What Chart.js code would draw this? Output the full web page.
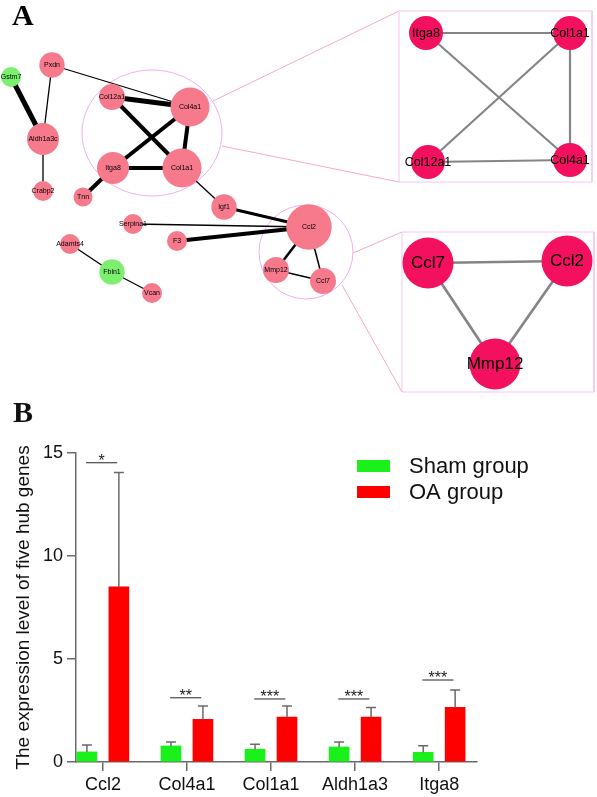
<!DOCTYPE html>
<html>
<head>
<meta charset="utf-8">
<script src="https://cdn.jsdelivr.net/npm/chart.js@4.4.1/dist/chart.umd.min.js"></script>
<style>
    html, body { margin: 0; padding: 0; background: #fff; }
    #pagina { position: relative; width: 597px; height: 797px; }
    #caixaRede { position: absolute; left: 0; top: 0; width: 597px; height: 400px; }
    #caixaBarras { position: absolute; left: 0; top: 370px; width: 597px; height: 427px; }
</style>
</head>
<body>
<div id="pagina">
    <div id="caixaRede"><canvas id="graficoRede"></canvas></div>
    <div id="caixaBarras"><canvas id="graficoBarras"></canvas></div>
</div>
<script>
// ---- Painel A: rede PPI ----
const nos = ['Gstm7', 'Pxdn', 'Aldh1a3c', 'Crabp2', 'Col12a1', 'Col4a1', 'Itga8', 'Col1a1', 'Tnn',
    'Igf1', 'Ccl2', 'Serpina1', 'F3', 'Adamts4', 'Fbln1', 'Vcan', 'Mmp12', 'Ccl7'];
const nosX = [11, 52, 43, 43, 112, 190, 113, 182, 83, 224, 309, 133, 177, 70, 112, 152, 276, 323];
const nosY = [77, 65, 139, 191, 97, 107, 168, 168, 197, 207, 227, 224, 241, 244, 272, 293, 270, 281];
const nosGrau = [10, 12.7, 16, 10, 13, 19.5, 16, 19.5, 9.5, 12.7, 22.7, 10, 10, 10, 12.7, 10, 13, 13];
const nosRegulacao = ['down', 'up', 'up', 'up', 'up', 'up', 'up', 'up', 'up',
    'up', 'up', 'up', 'up', 'up', 'down', 'up', 'up', 'up'];
const arestas = [
    ['Gstm7', 'Aldh1a3c', 5], ['Pxdn', 'Aldh1a3c', 1.3], ['Aldh1a3c', 'Crabp2', 1.3],
    ['Pxdn', 'Col4a1', 1.3], ['Col12a1', 'Col4a1', 5], ['Col12a1', 'Col1a1', 4],
    ['Itga8', 'Col4a1', 4], ['Itga8', 'Col1a1', 4], ['Col4a1', 'Col1a1', 4],
    ['Itga8', 'Tnn', 4], ['Col1a1', 'Igf1', 1.3], ['Igf1', 'Ccl2', 3],
    ['Serpina1', 'Ccl2', 1.3], ['F3', 'Ccl2', 4], ['Ccl2', 'Mmp12', 2.5],
    ['Ccl2', 'Ccl7', 1.5], ['Mmp12', 'Ccl7', 1.5], ['Adamts4', 'Fbln1', 1.3], ['Fbln1', 'Vcan', 1.3]
];

// modulos ampliados
const modulo1 = ['Itga8', 'Col1a1', 'Col12a1', 'Col4a1'];
const modulo1X = [426, 570, 428, 570];
const modulo1Y = [33, 33, 162, 160];
const modulo1Arestas = [['Itga8', 'Col1a1'], ['Itga8', 'Col4a1'], ['Col1a1', 'Col12a1'], ['Col1a1', 'Col4a1'], ['Col12a1', 'Col4a1']];
const modulo2 = ['Ccl7', 'Ccl2', 'Mmp12'];
const modulo2X = [428, 567, 495];
const modulo2Y = [263, 261, 364];
const modulo2Arestas = [['Ccl7', 'Ccl2'], ['Ccl7', 'Mmp12'], ['Ccl2', 'Mmp12']];

// ---- Painel B: expressao dos genes hub ----
const genes = ['Ccl2', 'Col4a1', 'Col1a1', 'Aldh1a3', 'Itga8'];
const shamMedia = [0.49, 0.78, 0.62, 0.73, 0.47];
const shamDP = [0.34, 0.19, 0.24, 0.24, 0.32];
const oaMedia = [8.5, 2.07, 2.18, 2.18, 2.65];
const oaDP = [5.55, 0.65, 0.54, 0.47, 0.85];
const significancia = ['*', '**', '***', '***', '***'];
const alturaSig = [14.53, 3.12, 3.06, 3.06, 3.98];
const ticksY = [0, 5, 10, 15];

const corCinza = '#6a6a6a';

// ---------- grafico A ----------
function pos(nomes, xs, ys, nome) {
    const i = nomes.indexOf(nome);
    return { x: xs[i], y: ys[i] };
}

const datasetsRede = [];

// nos principais
datasetsRede.push({
    type: 'bubble', order: 0, clip: false,
    data: nos.map((n, i) => ({ x: nosX[i], y: nosY[i], r: nosGrau[i] })),
    backgroundColor: nosRegulacao.map(r => r === 'down' ? '#7cf06e' : '#f77a8c'),
    borderWidth: 0, rotulos: nos, fonte: 7
});
datasetsRede.push({
    type: 'bubble', order: 0, clip: false,
    data: modulo1.map((n, i) => ({ x: modulo1X[i], y: modulo1Y[i], r: 17 })),
    backgroundColor: '#f2105f', borderWidth: 0, rotulos: modulo1, fonte: 12.5
});
datasetsRede.push({
    type: 'bubble', order: 0, clip: false,
    data: modulo2.map((n, i) => ({ x: modulo2X[i], y: modulo2Y[i], r: 25.5 })),
    backgroundColor: '#f2105f', borderWidth: 0, rotulos: modulo2, fonte: 17
});

arestas.forEach(([a, b, w]) => {
    datasetsRede.push({
        type: 'line', order: 2, clip: false,
        data: [pos(nos, nosX, nosY, a), pos(nos, nosX, nosY, b)],
        borderColor: '#000', borderWidth: w, pointRadius: 0, tension: 0
    });
});
modulo1Arestas.forEach(([a, b]) => {
    datasetsRede.push({
        type: 'line', order: 2, clip: false,
        data: [pos(modulo1, modulo1X, modulo1Y, a), pos(modulo1, modulo1X, modulo1Y, b)],
        borderColor: '#858585', borderWidth: 2.2, pointRadius: 0, tension: 0
    });
});
modulo2Arestas.forEach(([a, b]) => {
    datasetsRede.push({
        type: 'line', order: 2, clip: false,
        data: [pos(modulo2, modulo2X, modulo2Y, a), pos(modulo2, modulo2X, modulo2Y, b)],
        borderColor: '#858585', borderWidth: 2.7, pointRadius: 0, tension: 0
    });
});

// caixas e linhas de ligacao
const caixas = [[399, 11, 592, 182], [402, 232, 594, 392]];
caixas.forEach(([x1, y1, x2, y2]) => {
    datasetsRede.push({
        type: 'line', order: 3, clip: false,
        data: [{ x: x1, y: y1 }, { x: x2, y: y1 }, { x: x2, y: y2 }, { x: x1, y: y2 }, { x: x1, y: y1 }],
        borderColor: '#f3c6f3', borderWidth: 1, pointRadius: 0, tension: 0
    });
});
const ligacoes = [[213, 101, 399, 11], [222, 146, 399, 182], [353, 253, 402, 232], [342, 285, 402, 392]];
ligacoes.forEach(([x1, y1, x2, y2]) => {
    datasetsRede.push({
        type: 'line', order: 3, clip: false,
        data: [{ x: x1, y: y1 }, { x: x2, y: y2 }],
        borderColor: '#f6a9c6', borderWidth: 1, pointRadius: 0, tension: 0
    });
});

const elipses = [[152, 133, 70, 63], [306, 252, 47, 47]];

const pluginRede = {
    id: 'pluginRede',
    beforeDatasetsDraw(chart) {
        const { ctx, scales: { x, y } } = chart;
        ctx.save();
        ctx.strokeStyle = '#f0aef0';
        ctx.lineWidth = 1;
        elipses.forEach(([cx, cy, rx, ry]) => {
            ctx.beginPath();
            ctx.ellipse(x.getPixelForValue(cx), y.getPixelForValue(cy), rx, ry, 0, 0, Math.PI * 2);
            ctx.stroke();
        });
        ctx.restore();
    },
    afterDatasetsDraw(chart) {
        const ctx = chart.ctx;
        ctx.save();
        ctx.fillStyle = '#000';
        ctx.textAlign = 'center';
        ctx.textBaseline = 'middle';
        chart.data.datasets.forEach((ds, i) => {
            if (!ds.rotulos) return;
            ctx.font = ds.fonte + 'px "Liberation Sans", Arial, sans-serif';
            chart.getDatasetMeta(i).data.forEach((el, j) => {
                ctx.fillText(ds.rotulos[j], el.x, el.y + 0.5);
            });
        });
        ctx.font = 'bold 30px "Liberation Serif", "Times New Roman", serif';
        ctx.textAlign = 'left';
        ctx.textBaseline = 'alphabetic';
        ctx.fillText('A', 12, 25);
        ctx.restore();
    }
};

new Chart(document.getElementById('graficoRede'), {
    type: 'scatter',
    data: { datasets: datasetsRede },
    options: {
        responsive: true,
        maintainAspectRatio: false,
        animation: false,
        events: [],
        layout: { padding: 0, autoPadding: false },
        plugins: { legend: { display: false }, tooltip: { enabled: false } },
        scales: {
            x: { type: 'linear', min: 0, max: 597, display: false },
            y: { type: 'linear', min: 0, max: 400, reverse: true, display: false }
        }
    },
    plugins: [pluginRede]
});

// ---------- grafico B ----------
const desvio = 0.19;

const pluginBarras = {
    id: 'pluginBarras',
    afterDatasetsDraw(chart) {
        const { ctx, scales: { x, y } } = chart;
        ctx.save();
        // barras de erro
        ctx.strokeStyle = corCinza;
        ctx.lineWidth = 1.5;
        chart.data.datasets.forEach((ds, i) => {
            chart.getDatasetMeta(i).data.forEach((el, j) => {
                const topo = y.getPixelForValue(ds.media[j] + ds.dp[j]);
                ctx.beginPath();
                ctx.moveTo(el.x, el.y);
                ctx.lineTo(el.x, topo);
                ctx.moveTo(el.x - 5, topo);
                ctx.lineTo(el.x + 5, topo);
                ctx.stroke();
            });
        });
        // linhas de significancia
        ctx.strokeStyle = '#555';
        ctx.lineWidth = 1.3;
        ctx.fillStyle = '#222';
        ctx.font = '16px "Liberation Sans", Arial, sans-serif';
        ctx.textAlign = 'center';
        ctx.textBaseline = 'alphabetic';
        genes.forEach((g, i) => {
            const yy = y.getPixelForValue(alturaSig[i]);
            const x1 = x.getPixelForValue(i - desvio - 0.01);
            const x2 = x.getPixelForValue(i + desvio - 0.02);
            ctx.beginPath();
            ctx.moveTo(x1, yy);
            ctx.lineTo(x2, yy);
            ctx.stroke();
            ctx.fillText(significancia[i], (x1 + x2) / 2, yy + 3);
        });
        // legenda
        ctx.textAlign = 'left';
        ctx.textBaseline = 'middle';
        ctx.font = '22px "Liberation Sans", Arial, sans-serif';
        chart.data.datasets.forEach((ds, i) => {
            const ly = 96 + i * 26;
            ctx.fillStyle = ds.backgroundColor;
            ctx.fillRect(357, ly - 6, 33, 12);
            ctx.fillStyle = '#111';
            ctx.fillText(ds.label, 409, ly + 1);
        });
        // letra do painel
        ctx.font = 'bold 30px "Liberation Serif", "Times New Roman", serif';
        ctx.textBaseline = 'alphabetic';
        ctx.fillText('B', 13, 52);
        ctx.restore();
    }
};

new Chart(document.getElementById('graficoBarras'), {
    type: 'bar',
    data: {
        datasets: [{
            label: 'Sham group',
            data: shamMedia.map((v, i) => ({ x: i - desvio, y: v })),
            media: shamMedia, dp: shamDP,
            backgroundColor: '#1af01a',
            barThickness: 20, grouped: false
        }, {
            label: 'OA group',
            data: oaMedia.map((v, i) => ({ x: i + desvio, y: v })),
            media: oaMedia, dp: oaDP,
            backgroundColor: '#ff0000',
            barThickness: 20, grouped: false
        }]
    },
    options: {
        responsive: true,
        maintainAspectRatio: false,
        animation: false,
        events: [],
        layout: { padding: { top: 83, right: 120, bottom: 0, left: 0 } },
        plugins: { legend: { display: false }, tooltip: { enabled: false } },
        scales: {
            x: {
                type: 'linear', min: -0.32, max: 4.45, offset: false,
                afterBuildTicks: s => { s.ticks = genes.map((g, i) => ({ value: i })); },
                afterFit: s => { s.height = 35; },
                grid: { offset: false, drawOnChartArea: false, tickLength: 9, color: corCinza, lineWidth: 1.5 },
                border: { color: corCinza, width: 1.5 },
                ticks: {
                    autoSkip: false, maxRotation: 0, padding: 3, color: '#111',
                    font: { size: 18, family: '"Liberation Sans", Arial, sans-serif' },
                    callback: v => genes[v]
                }
            },
            y: {
                min: 0, max: 15,
                afterBuildTicks: s => { s.ticks = ticksY.map(v => ({ value: v })); },
                afterFit: s => { s.width = 76; },
                grid: { drawOnChartArea: false, tickLength: 9, color: corCinza, lineWidth: 1.5 },
                border: { color: corCinza, width: 1.5 },
                ticks: {
                    padding: 4, color: '#111',
                    font: { size: 18, family: '"Liberation Sans", Arial, sans-serif' }
                },
                title: {
                    display: true,
                    text: 'The expression level of five hub genes',
                    color: '#111',
                    padding: { top: 12, bottom: 0 },
                    font: { size: 19, family: '"Liberation Sans", Arial, sans-serif' }
                }
            }
        }
    },
    plugins: [pluginBarras]
});
</script>
</body>
</html>
